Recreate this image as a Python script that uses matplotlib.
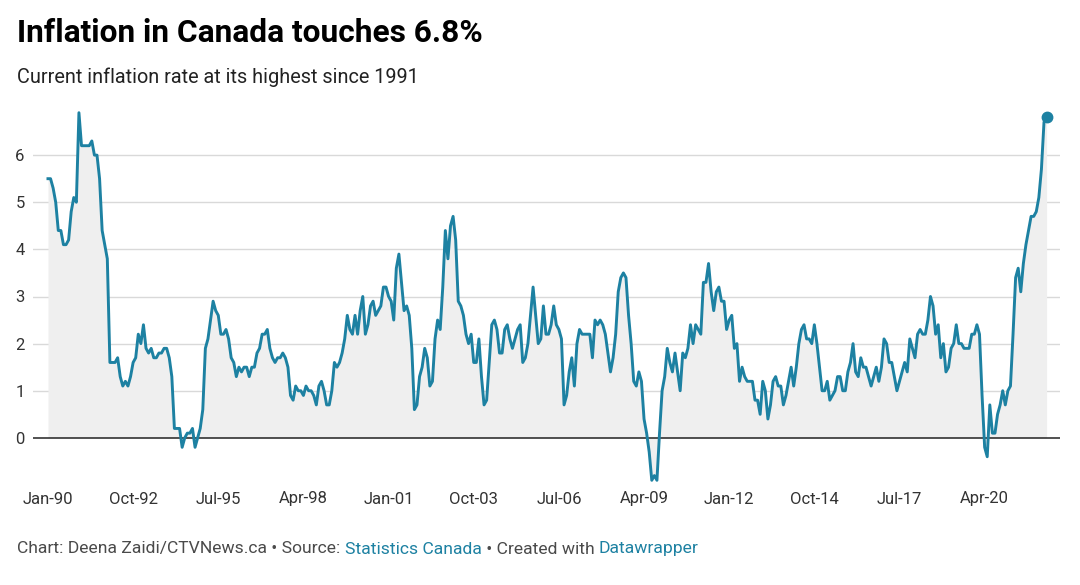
import matplotlib

matplotlib.use("Agg")

import matplotlib.pyplot as plt
import matplotlib.transforms as mtransforms
import numpy as np

# Monthly 12-month CPI change (%), Jan-1990 .. Apr-2022
cpi_1990 = [5.5, 5.5, 5.3, 5.0, 4.4, 4.4, 4.1, 4.1, 4.2, 4.8, 5.1, 5.0]
cpi_1991 = [6.9, 6.2, 6.2, 6.2, 6.2, 6.3, 6.0, 6.0, 5.5, 4.4, 4.1, 3.8]
cpi_1992 = [1.6, 1.6, 1.6, 1.7, 1.3, 1.1, 1.2, 1.1, 1.3, 1.6, 1.7, 2.2]
cpi_1993 = [2.0, 2.4, 1.9, 1.8, 1.9, 1.7, 1.7, 1.8, 1.8, 1.9, 1.9, 1.7]
cpi_1994 = [1.3, 0.2, 0.2, 0.2, -0.2, 0.0, 0.1, 0.1, 0.2, -0.2, 0.0, 0.2]
cpi_1995 = [0.6, 1.9, 2.1, 2.5, 2.9, 2.7, 2.6, 2.2, 2.2, 2.3, 2.1, 1.7]
cpi_1996 = [1.6, 1.3, 1.5, 1.4, 1.5, 1.5, 1.3, 1.5, 1.5, 1.8, 1.9, 2.2]
cpi_1997 = [2.2, 2.3, 1.9, 1.7, 1.6, 1.7, 1.7, 1.8, 1.7, 1.5, 0.9, 0.8]
cpi_1998 = [1.1, 1.0, 1.0, 0.9, 1.1, 1.0, 1.0, 0.9, 0.7, 1.1, 1.2, 1.0]
cpi_1999 = [0.7, 0.7, 1.0, 1.6, 1.5, 1.6, 1.8, 2.1, 2.6, 2.3, 2.2, 2.6]
cpi_2000 = [2.2, 2.7, 3.0, 2.2, 2.4, 2.8, 2.9, 2.6, 2.7, 2.8, 3.2, 3.2]
cpi_2001 = [3.0, 2.9, 2.5, 3.6, 3.9, 3.3, 2.7, 2.8, 2.6, 1.9, 0.6, 0.7]
cpi_2002 = [1.3, 1.5, 1.9, 1.7, 1.1, 1.2, 2.1, 2.5, 2.3, 3.2, 4.4, 3.8]
cpi_2003 = [4.5, 4.7, 4.2, 2.9, 2.8, 2.6, 2.2, 2.0, 2.2, 1.6, 1.6, 2.1]
cpi_2004 = [1.3, 0.7, 0.8, 1.6, 2.4, 2.5, 2.3, 1.8, 1.8, 2.3, 2.4, 2.1]
cpi_2005 = [1.9, 2.1, 2.3, 2.4, 1.6, 1.7, 2.0, 2.6, 3.2, 2.6, 2.0, 2.1]
cpi_2006 = [2.8, 2.2, 2.2, 2.4, 2.8, 2.4, 2.3, 2.1, 0.7, 0.9, 1.4, 1.7]
cpi_2007 = [1.1, 2.0, 2.3, 2.2, 2.2, 2.2, 2.2, 1.7, 2.5, 2.4, 2.5, 2.4]
cpi_2008 = [2.2, 1.8, 1.4, 1.7, 2.2, 3.1, 3.4, 3.5, 3.4, 2.6, 2.0, 1.2]
cpi_2009 = [1.1, 1.4, 1.2, 0.4, 0.1, -0.3, -0.9, -0.8, -0.9, 0.1, 1.0, 1.3]
cpi_2010 = [1.9, 1.6, 1.4, 1.8, 1.4, 1.0, 1.8, 1.7, 1.9, 2.4, 2.0, 2.4]
cpi_2011 = [2.3, 2.2, 3.3, 3.3, 3.7, 3.1, 2.7, 3.1, 3.2, 2.9, 2.9, 2.3]
cpi_2012 = [2.5, 2.6, 1.9, 2.0, 1.2, 1.5, 1.3, 1.2, 1.2, 1.2, 0.8, 0.8]
cpi_2013 = [0.5, 1.2, 1.0, 0.4, 0.7, 1.2, 1.3, 1.1, 1.1, 0.7, 0.9, 1.2]
cpi_2014 = [1.5, 1.1, 1.5, 2.0, 2.3, 2.4, 2.1, 2.1, 2.0, 2.4, 2.0, 1.5]
cpi_2015 = [1.0, 1.0, 1.2, 0.8, 0.9, 1.0, 1.3, 1.3, 1.0, 1.0, 1.4, 1.6]
cpi_2016 = [2.0, 1.4, 1.3, 1.7, 1.5, 1.5, 1.3, 1.1, 1.3, 1.5, 1.2, 1.5]
cpi_2017 = [2.1, 2.0, 1.6, 1.6, 1.3, 1.0, 1.2, 1.4, 1.6, 1.4, 2.1, 1.9]
cpi_2018 = [1.7, 2.2, 2.3, 2.2, 2.2, 2.5, 3.0, 2.8, 2.2, 2.4, 1.7, 2.0]
cpi_2019 = [1.4, 1.5, 1.9, 2.0, 2.4, 2.0, 2.0, 1.9, 1.9, 1.9, 2.2, 2.2]
cpi_2020 = [2.4, 2.2, 0.9, -0.2, -0.4, 0.7, 0.1, 0.1, 0.5, 0.7, 1.0, 0.7]
cpi_2021 = [1.0, 1.1, 2.2, 3.4, 3.6, 3.1, 3.7, 4.1, 4.4, 4.7, 4.7, 4.8]
cpi_2022 = [5.1, 5.7, 6.7, 6.8]

# x tick labels, every 33 months from Jan-1990
tick_months = [0, 33, 66, 99, 132, 165, 198, 231, 264, 297, 330, 363]
tick_labels = ["Jan-90", "Oct-92", "Jul-95", "Apr-98", "Jan-01", "Oct-03",
               "Jul-06", "Apr-09", "Jan-12", "Oct-14", "Jul-17", "Apr-20"]
y_ticks = [0, 1, 2, 3, 4, 5, 6]

values = np.array(
    cpi_1990 + cpi_1991 + cpi_1992 + cpi_1993 + cpi_1994 + cpi_1995 + cpi_1996
    + cpi_1997 + cpi_1998 + cpi_1999 + cpi_2000 + cpi_2001 + cpi_2002 + cpi_2003
    + cpi_2004 + cpi_2005 + cpi_2006 + cpi_2007 + cpi_2008 + cpi_2009 + cpi_2010
    + cpi_2011 + cpi_2012 + cpi_2013 + cpi_2014 + cpi_2015 + cpi_2016 + cpi_2017
    + cpi_2018 + cpi_2019 + cpi_2020 + cpi_2021 + cpi_2022
)
months = np.arange(len(values))

LINE = "#1d81a2"
TEXT = "#333333"
plt.rcParams["font.family"] = ["Roboto", "DejaVu Sans"]

fig = plt.figure(figsize=(10.8, 5.85), dpi=100)
W, H = 1080, 585
ax = fig.add_axes([33 / W, 1 - 485 / H, 1027 / W, (485 - 108) / H])

ax.fill_between(months, values, 0, color="#efefef", linewidth=0, zorder=1)
ax.plot(months, values, color=LINE, linewidth=2.1, zorder=3, clip_on=False,
        solid_joinstyle="round")
ax.plot(months[-1], values[-1], "o", color=LINE, markersize=7.5, zorder=4, clip_on=False)

ax.set_xlim(-5.8, 392.2)
ax.set_ylim(-1.0, 7.0)
for v in y_ticks[1:]:
    ax.axhline(v, color="#d9d9d9", linewidth=1.0, zorder=0)
ax.axhline(0, color="#222222", linewidth=1.1, zorder=2)

ax.set_yticks(y_ticks)
ax.set_yticklabels([str(v) for v in y_ticks])
ax.tick_params(axis="y", length=0, pad=6, labelsize=12, labelcolor=TEXT)
ax.set_xticks([])
for s in ax.spines.values():
    s.set_visible(False)
ax.patch.set_alpha(0)

trans = mtransforms.blended_transform_factory(ax.transData, fig.transFigure)
for m, lab in zip(tick_months, tick_labels):
    ax.text(m, 1 - 499 / H, lab, transform=trans, ha="center", va="center",
            fontsize=12, color=TEXT)

fig.text(17 / W, 1 - 33 / H, "Inflation in Canada touches 6.8%", fontsize=22.8,
         fontweight="bold", color="#000000", ha="left", va="center")
fig.text(17 / W, 1 - 77 / H, "Current inflation rate at its highest since 1991",
         fontsize=14.3, color="#222222", ha="left", va="center")

# footer with coloured source links
parts = [("Chart: Deena Zaidi/CTVNews.ca • Source: ", "#4a4a4a"),
         ("Statistics Canada", LINE),
         (" • Created with ", "#4a4a4a"),
         ("Datawrapper", LINE)]
prev = fig.text(17 / W, 1 - 549 / H, parts[0][0], fontsize=12.6, color=parts[0][1],
                ha="left", va="center")
for txt, col in parts[1:]:
    prev = ax.annotate(txt, xy=(1, 0), xycoords=prev, ha="left", va="bottom",
                       fontsize=12.6, color=col, annotation_clip=False)

fig.savefig("out.png", dpi=100)
